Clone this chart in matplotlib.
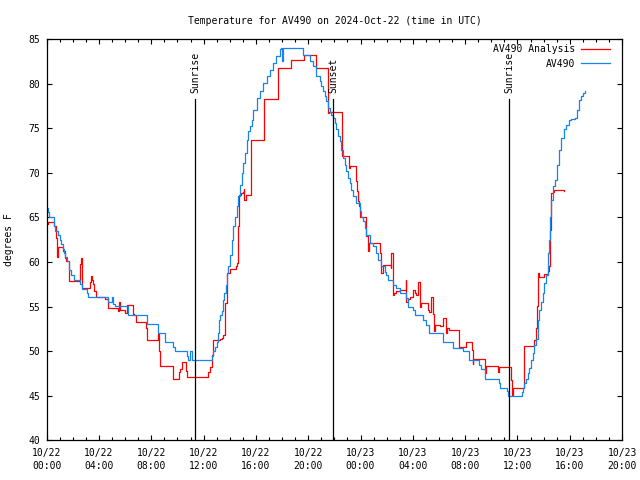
import datetime
import matplotlib
matplotlib.use("Agg")
import matplotlib.pyplot as plt
from matplotlib.ticker import MultipleLocator

# hours since 2024-10-22 00:00 UTC, value holds until the next time (step plot)
analysis_hours = [0.00, 0.065, 0.57, 0.70, 0.76, 0.83, 0.90, 1.23, 1.36, 1.49, 1.74,
                  2.58, 2.62, 2.66, 2.68, 3.32, 3.40, 3.50, 3.57, 3.65, 3.75, 4.47,
                  4.72, 5.48, 5.56, 5.62, 5.99, 6.17, 6.63, 6.70, 6.83, 7.60, 7.70,
                  8.54, 8.61, 8.66, 9.63, 9.68, 10.14, 10.19, 10.32, 10.62, 10.70,
                  12.35, 12.48, 12.61, 12.73, 13.24, 13.37, 13.50, 13.63, 13.76,
                  14.01, 14.44, 14.57, 14.64, 14.72, 14.82, 15.02, 15.08, 15.12,
                  15.23, 15.61, 15.66, 16.65, 17.65, 18.66, 19.66, 20.62, 21.51,
                  21.60, 22.00, 22.58, 23.12, 23.22, 23.63, 23.73, 23.80, 23.88,
                  23.98, 24.44, 24.57, 24.64, 25.46, 25.53, 25.71, 26.22, 26.30,
                  26.35, 26.47, 26.53, 26.73, 26.98, 27.37, 27.44, 27.50, 27.62,
                  27.75, 28.00, 28.13, 28.25, 28.38, 28.51, 28.64, 29.02, 29.15,
                  29.27, 29.40, 29.53, 29.60, 29.73, 30.04, 30.29, 30.55, 30.62,
                  30.80, 31.51, 31.62, 32.08, 32.53, 32.58, 32.63, 33.52, 33.60,
                  34.52, 34.62, 35.51, 35.59, 35.63, 36.47, 37.29, 37.42, 37.50,
                  37.54, 37.67, 38.05, 38.30, 38.44, 38.49, 38.57, 38.70, 38.82,
                  39.58]
analysis_temps = [64.3, 64.5, 64.0, 62.7, 60.6, 61.2, 61.7, 61.2, 60.4, 60.06, 57.9,
                  59.8, 60.5, 59.0, 57.06, 57.8, 58.45, 58.0, 57.5, 56.8, 56.1, 55.9,
                  54.8, 54.5, 55.5, 54.6, 54.25, 55.2, 54.2, 54.0, 53.25, 52.6, 51.3,
                  51.9, 50.0, 48.3, 47.6, 46.9, 47.6, 48.0, 48.75, 47.8, 47.06,
                  47.6, 48.2, 49.56, 51.2, 51.4, 51.5, 51.8, 55.4, 58.75,
                  59.2, 59.5, 59.9, 64.0, 67.56, 67.75, 67.9, 68.2, 67.0,
                  67.56, 70.56, 73.75, 78.3, 81.8, 82.7, 83.3, 81.8, 76.75,
                  76.9, 76.8, 71.9, 70.6, 70.8, 69.06, 68.0, 66.8, 66.3,
                  65.1, 62.9, 61.2, 62.1, 61.0, 58.75, 59.7, 59.7, 59.3,
                  61.0, 56.3, 56.5, 56.7, 56.9, 56.9, 58.0, 55.56, 55.9,
                  56.1, 56.9, 56.5, 56.3, 57.8, 55.0, 55.4, 55.4, 54.6,
                  54.4, 56.1, 54.2, 52.2, 52.94, 52.8, 53.7, 52.0, 52.6,
                  52.4, 50.3, 50.5, 51.06, 50.1, 48.5, 49.1, 47.5, 48.3,
                  47.6, 48.2, 46.75, 45.06, 45.9, 50.6, 51.25, 52.6, 55.07,
                  58.75, 58.3, 58.6, 59.0, 59.5, 63.6, 67.75, 67.9, 68.1,
                  68.0]

sensor_hours = [0.00, 0.10, 0.21, 0.52, 0.65, 0.83, 0.98, 1.11, 1.23, 1.30, 1.36,
                1.54, 1.74, 1.87, 2.12, 2.56, 2.68, 3.07, 3.19, 4.72, 4.98, 5.05,
                5.10, 5.23, 6.25, 7.65, 8.54, 9.05, 9.68, 9.81, 10.70, 10.83,
                10.92, 11.08, 12.66, 12.73, 12.86, 12.99, 13.11, 13.19, 13.24,
                13.37, 13.45, 13.50, 13.57, 13.68, 13.76, 13.88, 14.01, 14.14,
                14.26, 14.39, 14.52, 14.64, 14.77, 14.90, 15.02, 15.15, 15.28,
                15.40, 15.53, 15.71, 15.79, 16.05, 16.30, 16.55, 16.81, 17.06,
                17.31, 17.57, 17.82, 17.95, 18.02, 18.10, 19.60, 20.11, 20.37,
                20.63, 20.88, 21.01, 21.13, 21.26, 21.39, 21.52, 21.64, 21.77,
                21.89, 22.02, 22.15, 22.28, 22.40, 22.53, 22.66, 22.79, 22.92,
                23.04, 23.17, 23.30, 23.42, 23.68, 23.93, 24.06, 24.18, 24.31,
                24.44, 24.69, 24.95, 25.21, 25.33, 25.59, 25.84, 25.97, 26.09,
                26.47, 26.73, 26.98, 27.50, 27.62, 28.00, 28.13, 28.76, 29.02,
                29.27, 30.29, 31.05, 31.80, 32.33, 33.09, 33.22, 33.55, 34.56,
                34.67, 35.18, 35.25, 36.32, 36.40, 36.53, 36.66, 36.78, 36.91,
                37.04, 37.16, 37.29, 37.42, 37.54, 37.67, 37.80, 37.92, 38.05,
                38.18, 38.30, 38.38, 38.49, 38.57, 38.69, 38.87, 38.99, 39.15,
                39.33, 39.53, 39.71, 39.96, 40.09, 40.42, 40.52, 40.67, 40.85,
                41.03, 41.13]
sensor_temps = [66.1, 65.6, 65.05, 64.0, 63.5, 63.06, 62.5, 62.0, 61.5, 61.0, 60.6,
                60.06, 59.05, 58.56, 58.0, 57.5, 56.95, 56.5, 56.05, 55.56, 56.05, 55.56,
                55.3, 55.07, 54.06, 53.05, 52.0, 51.0, 50.5, 50.0, 49.5, 49.0,
                50.0, 49.0, 49.45, 50.0, 50.5, 51.06, 52.0, 53.5, 54.06,
                54.5, 55.2, 55.75, 56.5, 57.4, 58.75, 59.5, 60.8, 62.5,
                64.0, 65.1, 66.25, 67.4, 68.7, 70.0, 71.1, 72.25, 73.75,
                74.7, 75.25, 76.0, 77.1, 78.4, 79.2, 80.1, 80.9, 81.6,
                82.4, 83.1, 83.9, 84.06, 82.6, 84.06, 83.3, 82.55, 82.0,
                80.9, 80.3, 79.8, 79.2, 78.6, 78.06, 77.3, 76.9, 76.5,
                76.2, 75.6, 74.9, 74.2, 73.6, 72.6, 71.7, 70.9, 70.2,
                69.4, 68.9, 68.1, 67.4, 66.6, 65.7, 65.1, 64.6, 63.8,
                63.06, 62.1, 61.75, 61.0, 60.25, 59.5, 58.9, 58.56, 58.0,
                57.4, 57.06, 56.5, 55.94, 55.0, 54.6, 54.06, 53.5, 52.94,
                52.0, 51.06, 50.3, 50.0, 49.0, 48.4, 48.0, 46.9, 46.4,
                45.9, 45.5, 45.0, 45.4, 45.9, 46.4, 46.9, 47.5, 48.06,
                49.0, 49.75, 50.7, 51.4, 53.5, 54.6, 55.56, 56.5, 57.6,
                58.56, 61.0, 62.5, 65.1, 67.0, 68.5, 69.25, 70.9, 72.6,
                73.9, 74.9, 75.4, 75.9, 76.06, 76.2, 77.1, 78.2, 78.6,
                79.0, 79.2]

sun_hours = [11.36, 21.93, 35.35]
sun_labels = ["Sunrise", "Sunset", "Sunrise"]

start = datetime.datetime(2024, 10, 22, 0, 0)
tick_hours = list(range(0, 45, 4))

font = "DejaVu Sans Mono"
fs = 7

fig = plt.figure(figsize=(6.4, 4.8), dpi=100)
ax = fig.add_axes([0.073, 0.083, 0.899, 0.835])

ax.plot(analysis_hours, analysis_temps, drawstyle="steps-post", color="#ff0000",
        lw=0.9, label="AV490 Analysis")
ax.plot(sensor_hours, sensor_temps, drawstyle="steps-post", color="#1485f0",
        lw=0.9, label="AV490")

# sunrise / sunset markers
for h, txt in zip(sun_hours, sun_labels):
    ax.plot([h, h], [40, 78.33], color="black", lw=0.9)
    ax.text(h, 78.95, txt, rotation=90, ha="center", va="bottom",
            family=font, fontsize=fs)

ax.set_xlim(0, 44)
ax.set_ylim(40, 85)
ax.set_xticks(tick_hours)
labels = []
for h in tick_hours:
    t = start + datetime.timedelta(hours=h)
    labels.append(t.strftime("%m/%d\n%H:%M"))
ax.set_xticklabels(labels, family=font, fontsize=fs, linespacing=1.3)
ax.xaxis.set_minor_locator(MultipleLocator(1))
ax.set_yticks(range(40, 86, 5))
ax.set_yticklabels([str(v) for v in range(40, 86, 5)], family=font, fontsize=fs)

ax.tick_params(which="major", direction="in", length=3.6, width=0.8,
               top=True, right=True, pad=6)
ax.tick_params(which="minor", direction="in", length=2.0, width=0.8, top=True)
ax.tick_params(axis="y", pad=5)
for s in ax.spines.values():
    s.set_linewidth(0.9)

ax.set_title("Temperature for AV490 on 2024-Oct-22 (time in UTC)",
             family=font, fontsize=fs, pad=11)
ax.set_ylabel("degrees F", family=font, fontsize=fs)
ax.yaxis.set_label_coords(-0.057, 0.5)

ax.legend(loc="upper right", bbox_to_anchor=(0.986, 0.997), borderaxespad=0,
          frameon=False, markerfirst=False, handlelength=3.0, handletextpad=0.6,
          labelspacing=0.45, prop={"family": font, "size": fs})

fig.savefig("out.png", dpi=100)
